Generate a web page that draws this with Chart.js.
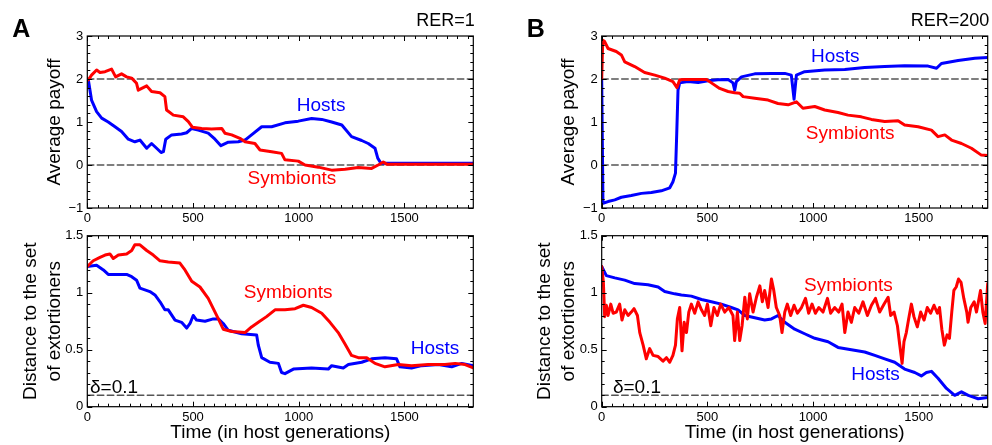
<!DOCTYPE html>
<html>
<head>
<meta charset="utf-8">
<script src="https://cdn.jsdelivr.net/npm/chart.js@4.4.1/dist/chart.umd.min.js"></script>
<style>
  html, body { margin: 0; padding: 0; background: #fff; }
  #wrap { position: relative; width: 992px; height: 445px; }
  canvas { position: absolute; left: 0; top: 0; }
</style>
</head>
<body>
<div id="wrap">
  <canvas id="aTop" width="992" height="445"></canvas>
  <canvas id="aBot" width="992" height="445"></canvas>
  <canvas id="bTop" width="992" height="445"></canvas>
  <canvas id="bBot" width="992" height="445"></canvas>
</div>
<script>
// x range (host generations)
const XMAX = 1826;
const xTicks = [0, 500, 1000, 1500];
const payTicks = [-1, 0, 1, 2, 3];
const distTicks = [0, 0.5, 1, 1.5];

// A, RER=1 : average payoff
const aPayHostT = [0, 5, 20, 44, 68, 99, 131, 162, 194, 225, 249, 281, 304, 328, 349, 360, 371, 399, 446, 470, 494, 525, 572, 604, 632, 667, 714, 746, 777, 825, 872, 935, 998, 1061, 1109, 1156, 1204, 1250, 1298, 1329, 1361, 1374, 1389, 1500, 1650, 1826];
const aPayHostV = [2.0, 1.98, 1.51, 1.24, 1.09, 1.0, 0.89, 0.78, 0.60, 0.54, 0.58, 0.39, 0.50, 0.39, 0.29, 0.31, 0.60, 0.70, 0.72, 0.75, 0.85, 0.81, 0.74, 0.60, 0.45, 0.53, 0.54, 0.58, 0.70, 0.89, 0.89, 0.98, 1.02, 1.08, 1.06, 1.0, 0.93, 0.66, 0.57, 0.50, 0.39, 0.16, 0.04, 0.04, 0.04, 0.04];
const aPaySymT = [0, 5, 20, 44, 60, 84, 115, 134, 162, 186, 210, 233, 241, 281, 304, 344, 367, 375, 407, 454, 478, 497, 541, 588, 636, 651, 683, 722, 746, 793, 817, 872, 919, 935, 998, 1030, 1093, 1156, 1219, 1282, 1345, 1376, 1400, 1416, 1600, 1826];
const aPaySymV = [2.0, 1.98, 2.09, 2.21, 2.15, 2.17, 2.23, 2.05, 2.12, 2.05, 2.02, 1.90, 1.74, 1.84, 1.71, 1.68, 1.59, 1.28, 1.16, 1.12, 1.01, 0.88, 0.85, 0.84, 0.85, 0.74, 0.70, 0.62, 0.54, 0.50, 0.35, 0.31, 0.27, 0.12, 0.09, 0.0, -0.05, -0.12, -0.10, -0.06, -0.08, 0.0, 0.07, 0.02, 0.02, 0.02];

// A, RER=1 : distance to extortioners
const aDistHostT = [0, 44, 76, 99, 147, 186, 210, 233, 249, 296, 320, 344, 367, 383, 415, 446, 470, 486, 501, 517, 557, 596, 620, 643, 667, 730, 801, 809, 825, 864, 904, 919, 935, 975, 1061, 1140, 1156, 1211, 1235, 1298, 1345, 1408, 1463, 1479, 1534, 1582, 1661, 1724, 1771, 1826];
const aDistHostV = [1.23, 1.24, 1.20, 1.16, 1.16, 1.16, 1.14, 1.11, 1.04, 1.01, 0.98, 0.92, 0.85, 0.85, 0.76, 0.74, 0.69, 0.73, 0.80, 0.76, 0.75, 0.77, 0.77, 0.73, 0.67, 0.64, 0.63, 0.54, 0.43, 0.39, 0.38, 0.30, 0.29, 0.33, 0.34, 0.33, 0.36, 0.34, 0.37, 0.39, 0.42, 0.43, 0.42, 0.35, 0.34, 0.36, 0.37, 0.35, 0.38, 0.36];
const aDistSymT = [0, 28, 60, 84, 107, 123, 147, 186, 210, 225, 249, 281, 312, 344, 383, 438, 462, 494, 533, 572, 596, 620, 643, 683, 746, 777, 809, 848, 888, 935, 983, 1022, 1061, 1109, 1148, 1187, 1219, 1250, 1282, 1322, 1361, 1408, 1471, 1534, 1613, 1692, 1740, 1787, 1826];
const aDistSymV = [1.23, 1.28, 1.31, 1.33, 1.34, 1.30, 1.33, 1.34, 1.37, 1.42, 1.42, 1.37, 1.33, 1.28, 1.27, 1.26, 1.20, 1.10, 1.05, 0.95, 0.86, 0.77, 0.68, 0.66, 0.65, 0.70, 0.74, 0.79, 0.85, 0.85, 0.86, 0.89, 0.87, 0.82, 0.74, 0.65, 0.55, 0.45, 0.43, 0.43, 0.38, 0.35, 0.37, 0.36, 0.37, 0.37, 0.38, 0.37, 0.34];

// B, RER=200 : average payoff
const bPayHostT = [0, 6, 30, 62, 93, 140, 188, 235, 282, 322, 337, 349, 355, 361, 369, 408, 456, 503, 550, 598, 621, 629, 637, 661, 724, 803, 866, 897, 910, 921, 960, 1055, 1150, 1244, 1339, 1433, 1544, 1584, 1607, 1686, 1765, 1826];
const bPayHostV = [2.0, -0.89, -0.85, -0.81, -0.75, -0.71, -0.66, -0.64, -0.60, -0.53, -0.39, -0.19, 0.74, 1.74, 1.91, 1.94, 1.92, 1.96, 1.98, 1.99, 1.91, 1.74, 1.94, 2.05, 2.12, 2.13, 2.13, 2.09, 1.53, 2.09, 2.17, 2.21, 2.22, 2.27, 2.29, 2.31, 2.30, 2.25, 2.36, 2.43, 2.48, 2.50];
const bPaySymT = [0, 5, 14, 30, 69, 93, 109, 156, 203, 251, 298, 337, 356, 369, 393, 440, 495, 519, 558, 598, 629, 653, 669, 724, 787, 834, 882, 921, 952, 1008, 1055, 1118, 1165, 1228, 1276, 1339, 1402, 1433, 1497, 1560, 1591, 1623, 1655, 1702, 1749, 1796, 1826];
const bPaySymV = [2.0, 2.9, 2.87, 2.71, 2.64, 2.56, 2.40, 2.29, 2.15, 2.09, 2.02, 1.94, 1.80, 1.98, 1.99, 1.99, 1.99, 1.91, 1.78, 1.71, 1.68, 1.67, 1.59, 1.55, 1.51, 1.43, 1.40, 1.47, 1.32, 1.36, 1.28, 1.22, 1.16, 1.12, 1.06, 1.01, 1.03, 0.93, 0.89, 0.81, 0.66, 0.70, 0.58, 0.50, 0.39, 0.23, 0.22];

// B, RER=200 : distance to extortioners
const bDistHostT = [0, 22, 62, 109, 156, 219, 267, 298, 345, 377, 424, 472, 519, 566, 613, 645, 677, 724, 771, 803, 834, 866, 913, 960, 1008, 1071, 1118, 1181, 1244, 1292, 1339, 1386, 1433, 1481, 1512, 1536, 1560, 1591, 1631, 1670, 1702, 1734, 1781, 1826];
const bDistHostV = [1.23, 1.15, 1.13, 1.11, 1.08, 1.07, 1.05, 1.01, 0.99, 0.98, 0.97, 0.94, 0.92, 0.90, 0.87, 0.85, 0.80, 0.78, 0.76, 0.77, 0.80, 0.74, 0.68, 0.64, 0.60, 0.57, 0.52, 0.50, 0.48, 0.45, 0.42, 0.39, 0.33, 0.30, 0.27, 0.30, 0.31, 0.25, 0.16, 0.10, 0.13, 0.10, 0.07, 0.08];
const bDistSymT = [0, 8, 14, 22, 30, 43, 54, 69, 85, 96, 109, 125, 140, 153, 169, 180, 196, 211, 227, 243, 267, 290, 306, 322, 337, 349, 358, 369, 380, 390, 401, 412, 424, 440, 456, 472, 487, 500, 516, 531, 547, 563, 582, 601, 621, 629, 642, 653, 664, 677, 689, 700, 716, 732, 748, 760, 771, 787, 803, 814, 826, 842, 853, 866, 878, 894, 910, 926, 945, 964, 979, 995, 1011, 1027, 1047, 1068, 1083, 1102, 1121, 1137, 1150, 1165, 1181, 1197, 1216, 1236, 1257, 1276, 1295, 1315, 1336, 1355, 1367, 1383, 1399, 1410, 1421, 1430, 1441, 1452, 1465, 1477, 1493, 1509, 1525, 1540, 1556, 1572, 1588, 1598, 1609, 1621, 1634, 1645, 1656, 1666, 1677, 1688, 1700, 1713, 1727, 1733, 1746, 1762, 1773, 1792, 1803, 1814, 1826];
const bDistSymV = [1.23, 1.09, 0.79, 0.89, 0.80, 0.90, 0.82, 0.83, 0.90, 0.76, 0.85, 0.80, 0.83, 0.86, 0.80, 0.65, 0.54, 0.42, 0.51, 0.45, 0.44, 0.40, 0.43, 0.39, 0.45, 0.54, 0.77, 0.87, 0.49, 0.74, 0.65, 0.83, 0.90, 0.82, 0.92, 0.85, 0.80, 0.90, 0.71, 0.87, 0.80, 0.90, 0.83, 0.87, 0.80, 0.58, 0.83, 0.58, 0.71, 0.96, 0.77, 0.99, 0.83, 0.96, 1.06, 0.92, 1.02, 0.87, 1.12, 1.02, 0.87, 0.80, 0.65, 0.83, 0.90, 0.80, 0.89, 0.82, 0.87, 0.95, 0.82, 0.90, 0.82, 0.87, 0.83, 0.95, 0.82, 0.87, 0.83, 0.90, 0.65, 0.83, 0.74, 0.87, 0.82, 0.92, 0.80, 0.89, 0.95, 0.83, 0.90, 0.96, 0.80, 0.83, 0.71, 0.54, 0.38, 0.57, 0.65, 0.77, 0.90, 0.79, 0.70, 0.83, 0.76, 0.87, 0.82, 0.89, 0.82, 0.87, 0.68, 0.54, 0.63, 0.60, 0.83, 1.02, 1.05, 1.12, 1.09, 0.95, 0.83, 0.74, 0.87, 0.92, 0.83, 1.02, 0.83, 0.73, 1.08];

const HOST = '#0000ff';
const SYMB = '#ff0000';
const FONT = '"Liberation Sans", Arial, Helvetica, sans-serif';

Chart.defaults.font.family = FONT;
Chart.defaults.color = '#000';

function pts(t, v) {
  return t.map((x, i) => ({ x: x, y: v[i] }));
}

function refLine(y) {
  return {
    data: [{ x: 0, y: y }, { x: XMAX, y: y }],
    borderColor: '#555', borderWidth: 1.5, borderDash: [6.5, 3.5],
    pointRadius: 0, order: 3
  };
}

// frame, inward MATLAB-like ticks and text annotations
const decor = {
  id: 'decor',
  afterDraw(chart, args, o) {
    const { ctx, chartArea: a, scales: { x, y } } = chart;
    ctx.save();
    ctx.strokeStyle = '#000';
    ctx.lineWidth = 1;
    ctx.beginPath();
    for (let i = 0; i * 50 <= XMAX; i++) {
      const px = Math.round(x.getPixelForValue(i * 50)) + 0.5;
      const len = i % 10 === 0 ? 5 : 3;
      ctx.moveTo(px, a.bottom); ctx.lineTo(px, a.bottom - len);
      ctx.moveTo(px, a.top); ctx.lineTo(px, a.top + len);
    }
    const n = Math.round((y.max - y.min) / o.yMinor);
    for (let i = 0; i <= n; i++) {
      const py = Math.round(y.getPixelForValue(y.min + i * o.yMinor)) + 0.5;
      const len = i % o.perMajor === 0 ? 5 : 3;
      ctx.moveTo(a.left, py); ctx.lineTo(a.left + len, py);
      ctx.moveTo(a.right, py); ctx.lineTo(a.right - len, py);
    }
    ctx.stroke();
    ctx.lineWidth = 1.2;
    ctx.strokeRect(a.left, a.top, a.width, a.height);

    // curve labels
    ctx.font = '19px ' + FONT;
    o.labels.forEach(l => {
      ctx.fillStyle = l.color;
      ctx.textAlign = l.align || 'center';
      ctx.textBaseline = l.baseline || 'middle';
      ctx.fillText(l.text, x.getPixelForValue(l.x), y.getPixelForValue(l.y));
    });

    // y axis title
    ctx.fillStyle = '#000';
    ctx.textAlign = 'center';
    ctx.textBaseline = 'middle';
    const cy = (a.top + a.bottom) / 2;
    o.yTitle.forEach((line, i) => {
      ctx.save();
      ctx.translate(a.left - 33 - (o.yTitle.length - 1 - i) * 24, cy);
      ctx.rotate(-Math.PI / 2);
      ctx.fillText(line, 0, 0);
      ctx.restore();
    });

    if (o.xTitle) {
      ctx.fillText(o.xTitle, (a.left + a.right) / 2, a.bottom + 26);
    }
    if (o.panel) {
      ctx.textAlign = 'left';
      ctx.textBaseline = 'alphabetic';
      ctx.font = 'bold 25px ' + FONT;
      ctx.fillText(o.panel, a.left - 75, a.top + 1);
      ctx.font = '18px ' + FONT;
      ctx.textAlign = 'right';
      ctx.textBaseline = 'middle';
      ctx.fillText(o.rer, a.right + 1.5, a.top - 15);
    }
    ctx.restore();
  }
};

function makeChart(id, plot, yr, datasets, deco) {
  const yW = 40, xH = 24;
  new Chart(document.getElementById(id), {
    type: 'line',
    data: { datasets: datasets },
    options: {
      responsive: false,
      animation: false,
      devicePixelRatio: 1,
      layout: {
        padding: {
          left: plot.left - yW,
          top: plot.top,
          right: 992 - plot.right,
          bottom: 445 - plot.bottom - xH
        }
      },
      elements: { line: { tension: 0, borderJoinStyle: 'round', borderCapStyle: 'round' } },
      plugins: { legend: { display: false }, tooltip: { enabled: false }, decor: deco },
      scales: {
        x: {
          type: 'linear', min: 0, max: XMAX,
          afterBuildTicks: s => { s.ticks = xTicks.map(v => ({ value: v })); },
          ticks: { font: { size: 13 }, padding: 3, maxRotation: 0, autoSkip: false, callback: v => String(v) },
          grid: { display: false, drawTicks: false },
          border: { display: false },
          afterFit: s => { s.height = xH; }
        },
        y: {
          min: yr.min, max: yr.max,
          afterBuildTicks: s => { s.ticks = yr.ticks.map(v => ({ value: v })); },
          ticks: {
            font: { size: 13 }, padding: 4,
            callback: v => (v < 0 ? '\u2212' + Math.abs(v) : String(v))
          },
          grid: { display: false, drawTicks: false },
          border: { display: false },
          afterFit: s => { s.width = yW; }
        }
      }
    },
    plugins: [decor]
  });
}

function series(t, v, color, order) {
  return {
    data: pts(t, v), borderColor: color, borderWidth: 3,
    pointRadius: 0, order: order
  };
}

const payRange = { min: -1, max: 3, ticks: payTicks };
const distRange = { min: 0, max: 1.5, ticks: distTicks };

makeChart('aTop', { left: 87.3, top: 36, right: 473.3, bottom: 208 }, payRange, [
  series(aPayHostT, aPayHostV, HOST, 2),
  series(aPaySymT, aPaySymV, SYMB, 1),
  refLine(2), refLine(0)
], {
  yMinor: 0.2, perMajor: 5,
  yTitle: ['Average payoff'],
  panel: 'A', rer: 'RER=1',
  labels: [
    { text: 'Hosts', x: 1106, y: 1.37, color: HOST },
    { text: 'Symbionts', x: 968, y: -0.33, color: SYMB }
  ]
});

makeChart('aBot', { left: 87.3, top: 235.7, right: 473.3, bottom: 406.7 }, distRange, [
  series(aDistHostT, aDistHostV, HOST, 2),
  series(aDistSymT, aDistSymV, SYMB, 1),
  refLine(0.1)
], {
  yMinor: 0.1, perMajor: 5,
  yTitle: ['Distance to the set', 'of extortioners'],
  xTitle: 'Time (in host generations)',
  labels: [
    { text: 'Symbionts', x: 950, y: 1.0, color: SYMB },
    { text: 'Hosts', x: 1645, y: 0.51, color: HOST },
    { text: '\u03b4=0.1', x: 13, y: 0.12, color: '#000', align: 'left', baseline: 'alphabetic' }
  ]
});

makeChart('bTop', { left: 601.7, top: 36, right: 987.7, bottom: 208 }, payRange, [
  series(bPayHostT, bPayHostV, HOST, 2),
  series(bPaySymT, bPaySymV, SYMB, 1),
  refLine(2), refLine(0)
], {
  yMinor: 0.2, perMajor: 5,
  yTitle: ['Average payoff'],
  panel: 'B', rer: 'RER=200',
  labels: [
    { text: 'Hosts', x: 1105, y: 2.51, color: HOST },
    { text: 'Symbionts', x: 1175, y: 0.73, color: SYMB }
  ]
});

makeChart('bBot', { left: 601.7, top: 235.7, right: 987.7, bottom: 406.7 }, distRange, [
  series(bDistHostT, bDistHostV, HOST, 2),
  series(bDistSymT, bDistSymV, SYMB, 1),
  refLine(0.1)
], {
  yMinor: 0.1, perMajor: 5,
  yTitle: ['Distance to the set', 'of extortioners'],
  xTitle: 'Time (in host generations)',
  labels: [
    { text: 'Symbionts', x: 1167, y: 1.06, color: SYMB },
    { text: 'Hosts', x: 1295, y: 0.28, color: HOST },
    { text: '\u03b4=0.1', x: 53, y: 0.12, color: '#000', align: 'left', baseline: 'alphabetic' }
  ]
});
</script>
</body>
</html>
